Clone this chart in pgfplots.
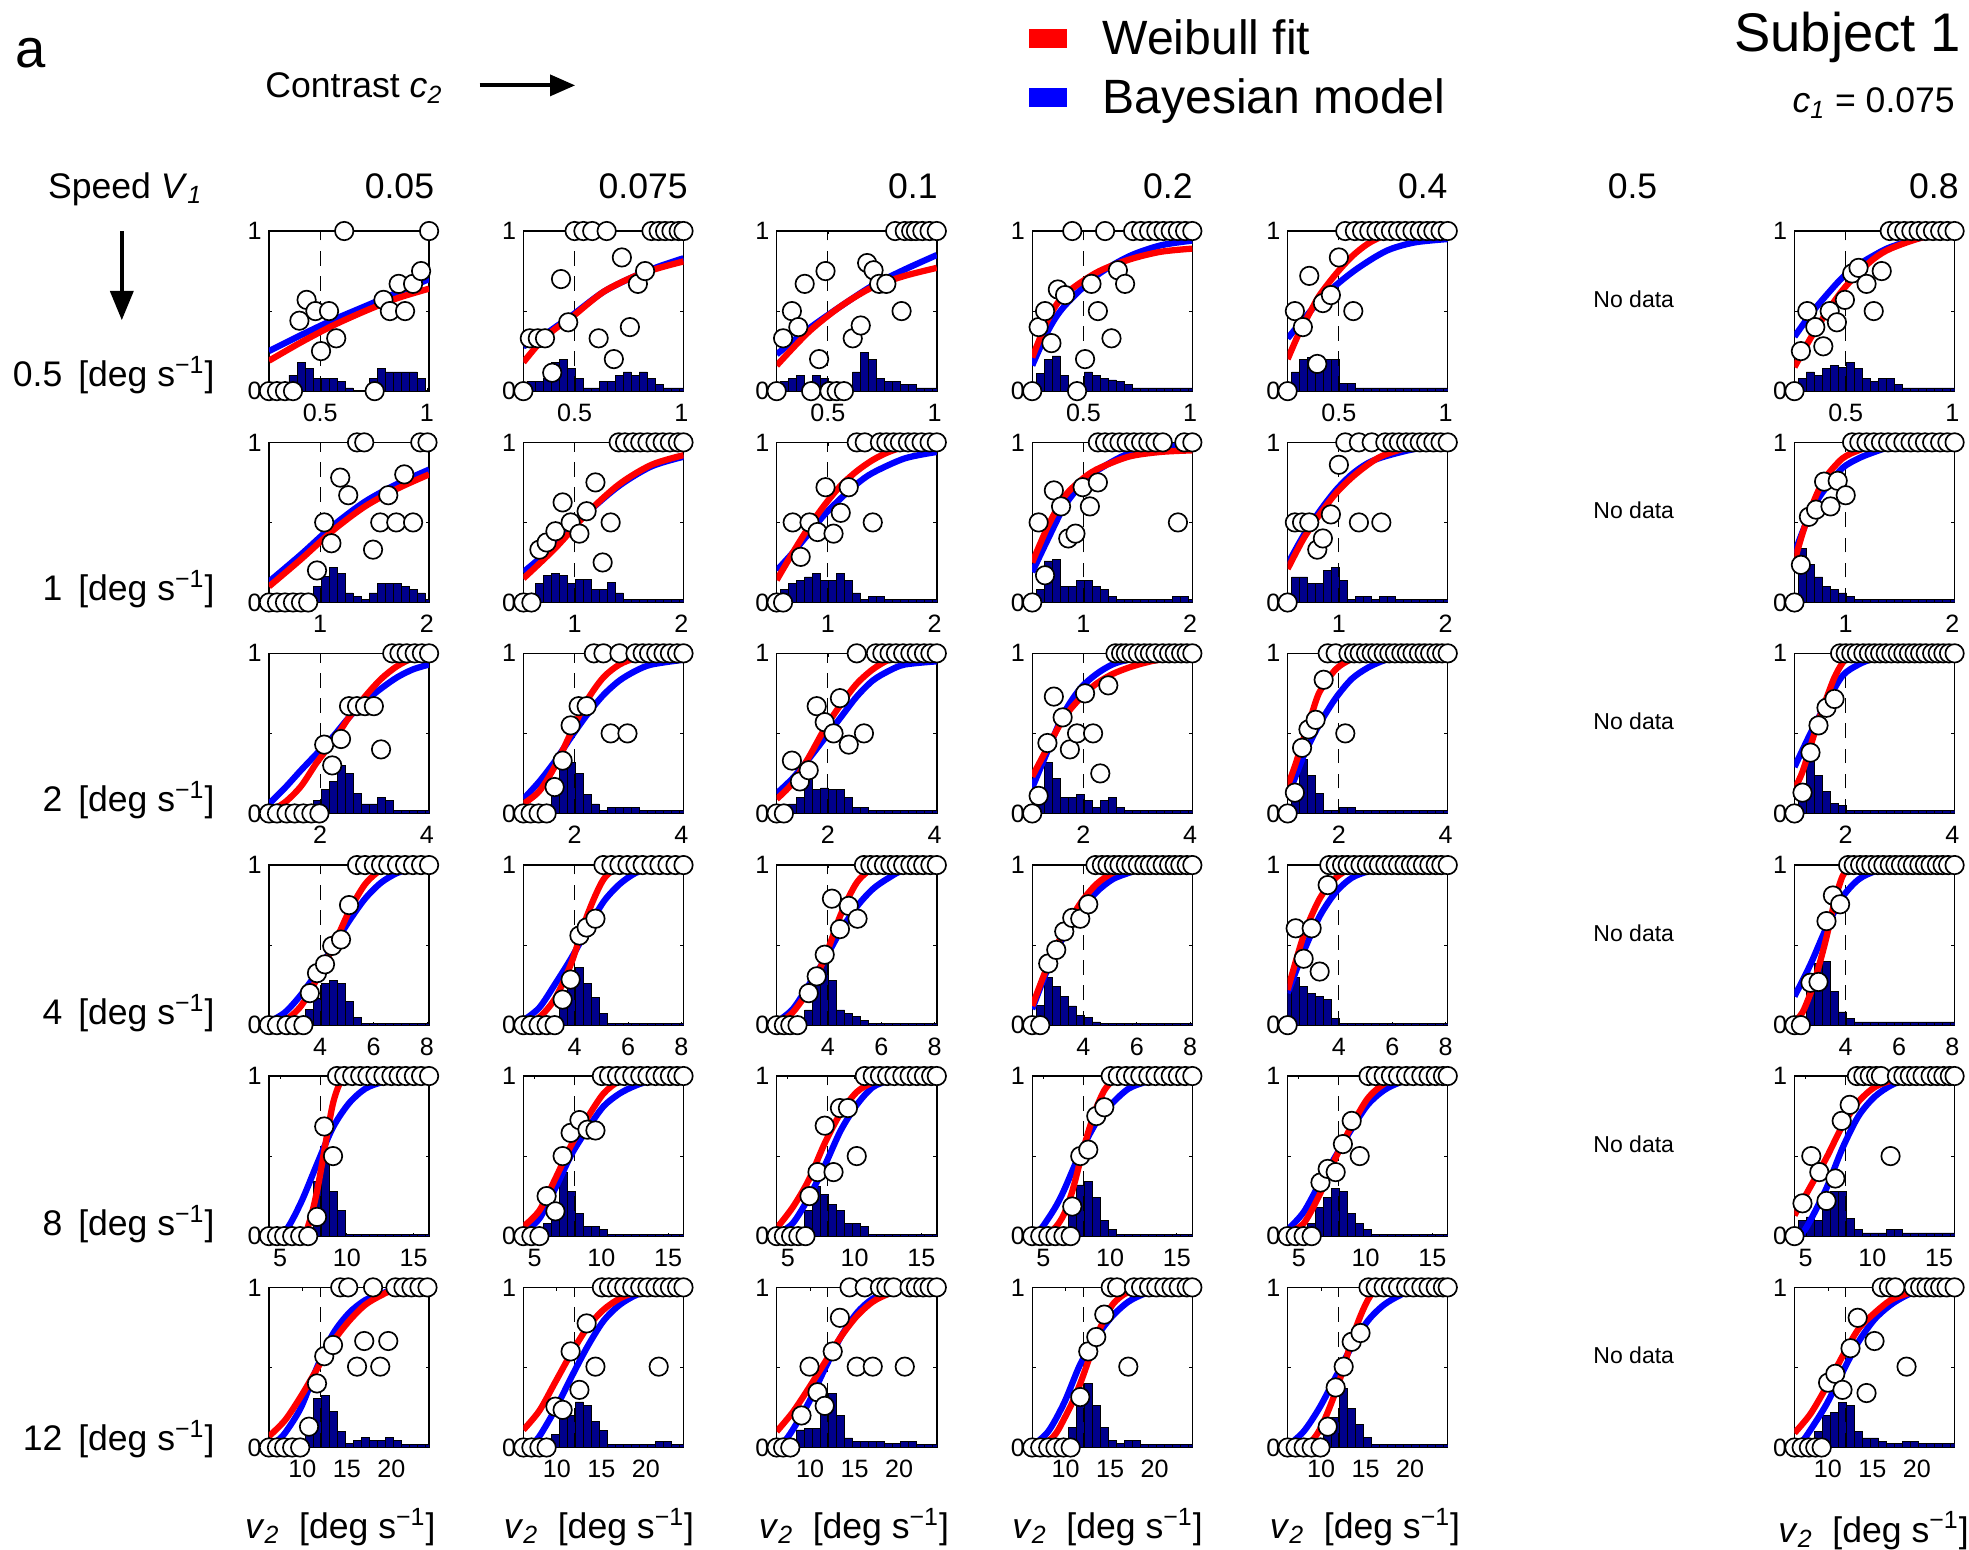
\documentclass[border=0pt]{standalone}
\usepackage{fontspec}
\setmainfont{Liberation Sans}
\usepackage{pgfplots}
\pgfplotsset{compat=1.18}
\usepackage{pgfplotstable}
\usetikzlibrary{arrows.meta}
\definecolor{barblue}{rgb}{0,0,0.55}
\definecolor{mred}{rgb}{1,0,0}
\definecolor{mblue}{rgb}{0,0,1}
\newcommand\fs[1]{\fontsize{#1}{#1}\selectfont}

\pgfplotstableread{
x c1 c2 c3 c4 c5 c7
0 0 0.04 0 0 0 0
0.05 0 0.06 0.06 0.11 0.12 0.08
0.10 0 0.06 0.08 0.20 0.20 0.12
0.15 0.10 0.08 0.10 0.22 0.21 0.10
0.20 0.18 0.18 0.04 0.10 0.22 0.14
0.25 0.14 0.20 0.10 0 0.20 0.16
0.30 0.08 0.14 0.08 0.02 0.20 0.15
0.35 0.08 0.08 0.03 0.12 0.05 0.18
0.40 0.08 0.02 0.02 0.10 0.05 0.14
0.45 0.06 0.02 0 0.08 0.02 0.08
0.50 0.02 0.06 0.12 0.07 0.02 0.06
0.55 0 0.06 0.24 0.06 0.02 0.08
0.60 0 0.10 0.20 0.04 0.02 0.08
0.65 0.08 0.12 0.08 0.02 0.02 0.04
0.70 0.14 0.10 0.06 0.02 0.02 0.02
0.75 0.12 0.12 0.06 0.02 0.02 0.02
0.80 0.12 0.08 0.04 0.02 0.02 0.02
0.85 0.12 0.04 0.04 0.02 0.02 0.02
0.90 0.12 0.02 0.02 0.02 0.02 0.02
0.95 0.08 0.02 0.02 0.02 0.02 0.02
1.00 0 0.02 0.02 0.02 0.02 0.02
}\barsA
\pgfplotstableread{
x c1 c2 c3 c4 c5 c7
0 0 0 0 0 0 0
0.05 0 0 0.08 0.08 0.16 0.34
0.10 0 0.12 0.12 0.26 0.16 0.24
0.15 0 0.167 0.14 0.27 0.12 0.16
0.20 0 0.18 0.16 0.10 0.12 0.10
0.25 0 0.167 0.18 0.10 0.20 0.08
0.30 0.10 0.12 0.14 0.14 0.22 0.06
0.35 0.165 0.144 0.14 0.14 0.14 0.04
0.40 0.22 0.144 0.18 0.10 0.02 0.02
0.45 0.18 0.083 0.14 0.08 0.04 0.02
0.50 0.06 0.083 0.06 0.04 0.04 0.02
0.55 0.04 0.123 0.02 0.02 0.02 0.02
0.60 0.02 0.06 0.04 0.02 0.04 0.02
0.65 0.06 0.02 0.04 0.02 0.04 0.02
0.70 0.12 0.02 0.02 0.02 0.02 0.02
0.75 0.12 0.02 0.02 0.02 0.02 0.02
0.80 0.12 0.02 0.02 0.02 0.02 0.02
0.85 0.10 0.02 0.02 0.02 0.02 0.02
0.90 0.08 0.02 0.02 0.04 0.02 0.02
0.95 0.06 0.02 0.02 0.04 0.02 0.02
1.00 0.02 0.02 0.02 0.02 0.02 0.02
}\barsB
\pgfplotstableread{
x c1 c2 c3 c4 c5 c7
0 0 0 0 0 0 0
0.05 0 0 0.04 0.08 0.10 0.14
0.10 0 0 0.06 0.32 0.34 0.35
0.15 0 0 0.10 0.22 0.24 0.24
0.20 0 0.13 0.25 0.10 0.125 0.14
0.25 0 0.365 0.15 0.10 0.02 0.065
0.30 0.08 0.32 0.16 0.12 0.02 0.05
0.35 0.15 0.25 0.15 0.08 0.04 0.02
0.40 0.20 0.12 0.15 0.04 0.04 0.02
0.45 0.30 0.06 0.10 0.08 0.02 0.02
0.50 0.25 0.02 0.04 0.10 0.02 0.02
0.55 0.125 0.04 0.04 0.04 0.02 0.02
0.60 0.06 0.04 0.02 0.02 0.02 0.02
0.65 0.06 0.04 0.02 0.02 0.02 0.02
0.70 0.10 0.04 0.02 0.02 0.02 0.02
0.75 0.08 0.02 0.02 0.02 0.02 0.02
0.80 0.02 0.02 0.02 0.02 0.02 0.02
0.85 0.02 0.02 0.02 0.02 0.02 0.02
0.90 0.02 0.02 0.02 0.02 0.02 0.02
0.95 0.02 0.02 0.02 0.02 0.02 0.02
1.00 0.02 0.02 0.02 0.02 0.02 0.02
}\barsC
\pgfplotstableread{
x c1 c2 c3 c4 c5 c7
0 0 0 0 0 0.21 0
0.05 0 0 0 0.125 0.30 0.04
0.10 0 0 0 0.30 0.24 0.30
0.15 0 0 0 0.24 0.20 0.385
0.20 0 0 0.095 0.18 0.18 0.40
0.25 0.10 0.19 0.246 0.12 0.16 0.21
0.30 0.17 0.295 0.39 0.0625 0.04 0.083
0.35 0.26 0.36 0.278 0.046 0.01 0.04
0.40 0.28 0.26 0.095 0.02 0.01 0.02
0.45 0.26 0.175 0.074 0.01 0.01 0.02
0.50 0.15 0.074 0.053 0.01 0.01 0.02
0.55 0.05 0.01 0.03 0.01 0.01 0.02
0.60 0.01 0.01 0.01 0.01 0.01 0.02
0.65 0.01 0.01 0.01 0.01 0.01 0.02
0.70 0.01 0.01 0.01 0.01 0.01 0.02
0.75 0.01 0.01 0.01 0.01 0.01 0.02
0.80 0.01 0.01 0.01 0.01 0.01 0.02
0.85 0.01 0.01 0.01 0.01 0.01 0.02
0.90 0.01 0.01 0.01 0.01 0.01 0.02
0.95 0.01 0.01 0.01 0.01 0.01 0.02
1.00 0.01 0.01 0.01 0.01 0.01 0.02
}\barsD
\pgfplotstableread{
x c1 c2 c3 c4 c5 c7
0 0 0 0 0 0 0
0.05 0 0 0 0 0 0.10
0.10 0 0.04 0 0 0.02 0.12
0.15 0 0.08 0 0 0.08 0.10
0.20 0 0.15 0.16 0 0.18 0.21
0.25 0 0.40 0.31 0.18 0.24 0.28
0.30 0.34 0.277 0.26 0.32 0.30 0.28
0.35 0.47 0.14 0.20 0.34 0.28 0.11
0.40 0.28 0.0625 0.16 0.24 0.14 0.04
0.45 0.16 0.0625 0.08 0.10 0.08 0.02
0.50 0.01 0.04 0.08 0.04 0.04 0.02
0.55 0.01 0.01 0.06 0.01 0.01 0.02
0.60 0.01 0.01 0.01 0.01 0.01 0.04
0.65 0.01 0.01 0.01 0.01 0.01 0.04
0.70 0.01 0.01 0.01 0.01 0.01 0.02
0.75 0.01 0.01 0.01 0.01 0.01 0.02
0.80 0.01 0.01 0.01 0.01 0.01 0.02
0.85 0.01 0.01 0.01 0.01 0.01 0.02
0.90 0.01 0.01 0.01 0.01 0.01 0.02
0.95 0.01 0.01 0.01 0.01 0.01 0.02
1.00 0.01 0.01 0.01 0.01 0.01 0.02
}\barsE
\pgfplotstableread{
x c1 c2 c3 c4 c5 c7
0 0 0 0 0 0 0
0.05 0 0 0 0 0 0
0.10 0 0 0.02 0 0 0.02
0.15 0 0 0.11 0 0 0.10
0.20 0 0.08 0.12 0 0 0.20
0.25 0.08 0.20 0.12 0.123 0.08 0.22
0.30 0.306 0.20 0.21 0.30 0.19 0.28
0.35 0.323 0.285 0.34 0.40 0.37 0.265
0.40 0.223 0.265 0.20 0.265 0.244 0.10
0.45 0.098 0.165 0.06 0.123 0.146 0.06
0.50 0.025 0.108 0.04 0.046 0.0625 0.06
0.55 0.042 0.02 0.04 0.025 0.02 0.04
0.60 0.0625 0.02 0.04 0.042 0.02 0.025
0.65 0.042 0.02 0.04 0.042 0.02 0.025
0.70 0.042 0.02 0.025 0.02 0.02 0.04
0.75 0.0625 0.02 0.025 0.02 0.02 0.04
0.80 0.042 0.02 0.04 0.02 0.02 0.025
0.85 0.02 0.04 0.04 0.02 0.02 0.025
0.90 0.02 0.04 0.02 0.02 0.02 0.025
0.95 0.02 0.02 0.02 0.02 0.02 0.025
1.00 0.02 0.02 0.02 0.02 0.02 0.025
}\barsF

\pgfplotsset{
  pan/.style={
    width=76.5pt, height=76.5pt, scale only axis,
    xmin=0, xmax=1, ymin=0, ymax=1,
    ytick={0,0.5,1}, yticklabels={0,,1},
    tick align=inside, major tick length=1.6pt,
    every tick/.style={black, line width=0.4pt},
    axis line style={line width=0.7pt},
    tick label style={font=\fs{12}},
    xticklabel style={yshift=-2.5pt},
    /pgf/number format/assume math mode=true,
    anchor=north west,
  },
  rowA/.style={xtick={0.32,0.9867}, xticklabels={0.5,1}},
  rowB/.style={xtick={0.32,0.9867}, xticklabels={1,2}},
  rowC/.style={xtick={0.32,0.9867}, xticklabels={2,4}},
  rowD/.style={xtick={0.32,0.6533,0.9867}, xticklabels={4,6,8}},
  rowE/.style={xtick={0.07,0.4867,0.9033}, xticklabels={5,10,15}},
  rowF/.style={xtick={0.2089,0.4867,0.7644}, xticklabels={10,15,20}},
}

% #1 left, #2 top (reference px), #3 row style, #4 bar table, #5 column, #6 red, #7 blue, #8 circles
\newcommand{\panel}[8]{%
\begin{axis}[pan, #3, at={({#1*0.6pt},{740.4pt-#2*0.6pt})}]
\addplot[ybar, bar width=0.05, bar shift=0pt, fill=barblue, draw=black, line width=0.3pt] table[x=x, y=#5] {#4};
\addplot[black, line width=0.5pt, dash pattern=on 7pt off 5pt] coordinates {(0.32,0)(0.32,1)};
\addplot[mblue, line width=3pt, smooth] coordinates {#7};
\addplot[mred, line width=3pt, smooth] coordinates {#6};
\addplot[only marks, mark=*, mark size=4.4pt, mark options={fill=white, draw=black, line width=0.8pt}] coordinates {#8};
\end{axis}}

\begin{document}
\begin{tikzpicture}
\path[use as bounding box] (0,0) rectangle (940.8pt,740.4pt);

% ---------------- Row 1 (v1 = 0.5)
\panel{214.2}{184}{rowA}{\barsA}{c1}
{(0,0.19)(0.2,0.305)(0.4,0.41)(0.6,0.5)(0.8,0.58)(1,0.64)}
{(0,0.25)(0.2,0.35)(0.4,0.445)(0.6,0.53)(0.8,0.615)(1,0.70)}
{(0,0)(0.05,0)(0.1,0)(0.15,0)(0.66,0)(0.47,1)(1,1)(0.19,0.44)(0.235,0.57)(0.29,0.5)(0.375,0.5)(0.42,0.33)(0.325,0.25)(0.715,0.57)(0.755,0.5)(0.81,0.67)(0.85,0.5)(0.9,0.67)(0.95,0.75)}
\panel{416.8}{184}{rowA}{\barsA}{c2}
{(0,0.18)(0.1,0.30)(0.2,0.39)(0.3,0.46)(0.5,0.62)(0.7,0.72)(0.85,0.77)(1,0.81)}
{(0,0.28)(0.1,0.33)(0.2,0.40)(0.3,0.47)(0.5,0.62)(0.7,0.72)(0.85,0.78)(1,0.83)}
{(0,0)(0.32,1)(0.375,1)(0.43,1)(0.52,1)(0.8,1)(0.845,1)(0.885,1)(0.925,1)(0.97,1)(1,1)(0.04,0.33)(0.09,0.33)(0.135,0.33)(0.18,0.115)(0.235,0.7)(0.28,0.43)(0.47,0.33)(0.565,0.2)(0.615,0.835)(0.665,0.4)(0.715,0.67)(0.76,0.75)}
\panel{618.5}{184}{rowA}{\barsA}{c3}
{(0,0.16)(0.2,0.37)(0.4,0.53)(0.6,0.65)(0.8,0.72)(1,0.77)}
{(0,0.23)(0.2,0.39)(0.4,0.53)(0.6,0.66)(0.8,0.76)(1,0.85)}
{(0,0)(0.215,0)(0.33,0)(0.375,0)(0.42,0)(0.74,1)(0.8,1)(0.84,1)(0.87,1)(0.91,1)(0.955,1)(1,1)(0.04,0.33)(0.095,0.5)(0.135,0.4)(0.175,0.67)(0.265,0.2)(0.305,0.75)(0.475,0.33)(0.525,0.41)(0.565,0.8)(0.605,0.755)(0.64,0.67)(0.685,0.67)(0.78,0.5)}
\panel{822}{184}{rowA}{\barsA}{c4}
{(0,0.21)(0.1,0.45)(0.2,0.60)(0.4,0.74)(0.6,0.82)(0.8,0.87)(1,0.89)}
{(0,0.16)(0.1,0.38)(0.2,0.53)(0.4,0.72)(0.6,0.84)(0.8,0.91)(1,0.94)}
{(0,0)(0.28,0)(0.25,1)(0.455,1)(0.63,1)(0.68,1)(0.73,1)(0.775,1)(0.82,1)(0.865,1)(0.91,1)(0.955,1)(1,1)(0.04,0.4)(0.08,0.5)(0.12,0.3)(0.16,0.635)(0.205,0.6)(0.33,0.2)(0.37,0.67)(0.41,0.5)(0.495,0.33)(0.535,0.755)(0.58,0.67)}
\panel{1025.4}{184}{rowA}{\barsA}{c5}
{(0,0.2)(0.07,0.36)(0.144,0.5)(0.2,0.6)(0.3,0.73)(0.4,0.84)(0.5,0.92)(0.6,0.97)(0.7,0.995)(1,1)}
{(0,0.33)(0.1,0.45)(0.2,0.565)(0.3,0.66)(0.42,0.755)(0.55,0.84)(0.65,0.89)(0.8,0.93)(1,0.95)}
{(0,0)(0.36,1)(0.42,1)(0.465,1)(0.51,1)(0.555,1)(0.6,1)(0.645,1)(0.69,1)(0.735,1)(0.78,1)(0.825,1)(0.87,1)(0.91,1)(0.955,1)(1,1)(0.045,0.5)(0.095,0.4)(0.135,0.72)(0.185,0.17)(0.22,0.55)(0.27,0.6)(0.32,0.835)(0.41,0.5)}
\panel{1429}{184}{rowA}{\barsA}{c7}
{(0,0.15)(0.1,0.33)(0.2,0.49)(0.3,0.63)(0.4,0.74)(0.5,0.83)(0.6,0.89)(0.8,0.96)(1,0.99)}
{(0,0.34)(0.1,0.48)(0.2,0.6)(0.3,0.71)(0.4,0.79)(0.5,0.85)(0.6,0.9)(0.8,0.96)(1,0.98)}
{(0,0)(0.595,1)(0.64,1)(0.685,1)(0.73,1)(0.775,1)(0.82,1)(0.865,1)(0.91,1)(0.955,1)(1,1)(0.04,0.25)(0.08,0.5)(0.13,0.4)(0.18,0.28)(0.22,0.5)(0.265,0.43)(0.315,0.57)(0.36,0.735)(0.4,0.77)(0.45,0.67)(0.495,0.5)(0.545,0.75)}

% ---------------- Row 2 (v1 = 1)
\panel{214.2}{352.3}{rowB}{\barsB}{c1}
{(0,0.10)(0.2,0.27)(0.4,0.45)(0.6,0.60)(0.8,0.71)(1,0.80)}
{(0,0.13)(0.2,0.30)(0.4,0.48)(0.6,0.63)(0.8,0.74)(1,0.83)}
{(0,0)(0.05,0)(0.1,0)(0.15,0)(0.2,0)(0.245,0)(0.55,1)(0.595,1)(0.945,1)(0.99,1)(0.3,0.2)(0.345,0.5)(0.39,0.37)(0.445,0.78)(0.495,0.67)(0.65,0.33)(0.695,0.5)(0.745,0.67)(0.795,0.5)(0.845,0.8)(0.9,0.5)}
\panel{416.8}{352.3}{rowB}{\barsB}{c2}
{(0,0.15)(0.2,0.34)(0.4,0.56)(0.6,0.74)(0.8,0.86)(1,0.92)}
{(0,0.19)(0.2,0.36)(0.4,0.56)(0.6,0.73)(0.8,0.85)(1,0.91)}
{(0,0)(0.05,0)(0.595,1)(0.635,1)(0.685,1)(0.73,1)(0.775,1)(0.825,1)(0.87,1)(0.915,1)(0.965,1)(1,1)(0.1,0.33)(0.145,0.375)(0.2,0.445)(0.245,0.625)(0.295,0.5)(0.35,0.43)(0.395,0.57)(0.45,0.75)(0.495,0.25)(0.545,0.5)}
\panel{618.5}{352.3}{rowB}{\barsB}{c3}
{(0,0.14)(0.1,0.31)(0.2,0.47)(0.3,0.61)(0.4,0.73)(0.5,0.82)(0.6,0.89)(0.7,0.94)(0.8,0.97)(1,1)}
{(0,0.20)(0.1,0.31)(0.2,0.43)(0.3,0.55)(0.4,0.65)(0.5,0.74)(0.6,0.81)(0.8,0.90)(1,0.94)}
{(0,0)(0.04,0)(0.5,1)(0.55,1)(0.645,1)(0.685,1)(0.73,1)(0.77,1)(0.82,1)(0.86,1)(0.905,1)(0.955,1)(1,1)(0.1,0.5)(0.15,0.285)(0.205,0.5)(0.255,0.44)(0.305,0.72)(0.355,0.43)(0.4,0.56)(0.45,0.72)(0.6,0.5)}
\panel{822}{352.3}{rowB}{\barsB}{c4}
{(0,0.25)(0.1,0.48)(0.2,0.66)(0.3,0.76)(0.4,0.83)(0.6,0.91)(0.8,0.94)(1,0.95)}
{(0,0.19)(0.1,0.40)(0.2,0.60)(0.3,0.73)(0.4,0.82)(0.6,0.93)(0.8,0.97)(1,0.98)}
{(0,0)(0.41,1)(0.455,1)(0.5,1)(0.545,1)(0.59,1)(0.635,1)(0.68,1)(0.725,1)(0.77,1)(0.815,1)(0.95,1)(1,1)(0.04,0.5)(0.08,0.17)(0.135,0.7)(0.18,0.6)(0.225,0.4)(0.27,0.43)(0.315,0.72)(0.36,0.6)(0.41,0.75)(0.91,0.5)}
\panel{1025.4}{352.3}{rowB}{\barsB}{c5}
{(0,0.21)(0.1,0.40)(0.2,0.55)(0.3,0.68)(0.4,0.78)(0.5,0.86)(0.6,0.92)(0.8,0.98)(1,1)}
{(0,0.24)(0.1,0.42)(0.2,0.57)(0.3,0.70)(0.4,0.80)(0.5,0.87)(0.6,0.91)(0.8,0.96)(1,0.98)}
{(0,0)(0.36,1)(0.445,1)(0.525,1)(0.61,1)(0.655,1)(0.695,1)(0.74,1)(0.78,1)(0.825,1)(0.865,1)(0.91,1)(0.955,1)(1,1)(0.045,0.5)(0.09,0.5)(0.135,0.5)(0.185,0.33)(0.22,0.4)(0.27,0.55)(0.32,0.86)(0.445,0.5)(0.585,0.5)}
\panel{1429}{352.3}{rowB}{\barsB}{c7}
{(0,0.26)(0.05,0.43)(0.1,0.58)(0.15,0.70)(0.2,0.79)(0.3,0.90)(0.4,0.95)(0.5,0.98)(0.6,1)(1,1)}
{(0,0.31)(0.05,0.44)(0.1,0.56)(0.15,0.65)(0.2,0.72)(0.3,0.84)(0.4,0.90)(0.5,0.94)(0.6,0.97)(0.8,0.99)(1,1)}
{(0,0)(0.36,1)(0.405,1)(0.45,1)(0.495,1)(0.54,1)(0.585,1)(0.63,1)(0.68,1)(0.725,1)(0.77,1)(0.815,1)(0.86,1)(0.91,1)(0.955,1)(1,1)(0.04,0.235)(0.09,0.535)(0.135,0.58)(0.185,0.755)(0.225,0.6)(0.27,0.76)(0.32,0.67)}

% ---------------- Row 3 (v1 = 2)
\panel{214.2}{520.3}{rowC}{\barsC}{c1}
{(0,0.01)(0.1,0.07)(0.2,0.17)(0.3,0.32)(0.4,0.45)(0.5,0.6)(0.6,0.73)(0.7,0.84)(0.8,0.92)(0.9,0.97)(1,0.99)}
{(0,0.06)(0.1,0.16)(0.2,0.27)(0.3,0.375)(0.4,0.48)(0.5,0.6)(0.6,0.7)(0.7,0.78)(0.8,0.85)(0.9,0.9)(1,0.93)}
{(0,0)(0.05,0)(0.11,0)(0.16,0)(0.215,0)(0.265,0)(0.315,0)(0.77,1)(0.815,1)(0.86,1)(0.91,1)(0.955,1)(1,1)(0.345,0.43)(0.395,0.3)(0.45,0.465)(0.5,0.67)(0.55,0.67)(0.6,0.67)(0.655,0.67)(0.7,0.4)}
\panel{416.8}{520.3}{rowC}{\barsC}{c2}
{(0,0.06)(0.1,0.14)(0.2,0.30)(0.3,0.51)(0.4,0.71)(0.5,0.85)(0.6,0.93)(0.7,0.97)(0.8,0.99)(1,1)}
{(0,0.09)(0.1,0.20)(0.2,0.33)(0.3,0.48)(0.4,0.62)(0.5,0.74)(0.6,0.83)(0.7,0.89)(0.8,0.93)(1,0.96)}
{(0,0)(0.045,0)(0.095,0)(0.145,0)(0.44,1)(0.5,1)(0.6,1)(0.7,1)(0.745,1)(0.785,1)(0.83,1)(0.875,1)(0.915,1)(0.96,1)(1,1)(0.195,0.165)(0.245,0.33)(0.295,0.55)(0.345,0.67)(0.395,0.67)(0.545,0.5)(0.65,0.5)}
\panel{618.5}{520.3}{rowC}{\barsC}{c3}
{(0,0.09)(0.1,0.19)(0.2,0.35)(0.3,0.53)(0.4,0.68)(0.5,0.81)(0.6,0.90)(0.7,0.96)(0.8,0.99)(1,1)}
{(0,0.125)(0.1,0.22)(0.2,0.34)(0.3,0.47)(0.4,0.60)(0.5,0.73)(0.6,0.83)(0.7,0.89)(0.8,0.93)(1,0.95)}
{(0,0)(0.045,0)(0.5,1)(0.62,1)(0.66,1)(0.705,1)(0.745,1)(0.79,1)(0.835,1)(0.875,1)(0.92,1)(0.96,1)(1,1)(0.095,0.33)(0.145,0.2)(0.2,0.27)(0.25,0.67)(0.3,0.57)(0.355,0.5)(0.395,0.72)(0.45,0.43)(0.545,0.5)}
\panel{822}{520.3}{rowC}{\barsC}{c4}
{(0,0.23)(0.1,0.42)(0.2,0.60)(0.3,0.72)(0.4,0.81)(0.5,0.87)(0.6,0.91)(0.7,0.94)(0.8,0.96)(1,0.97)}
{(0,0.16)(0.1,0.40)(0.2,0.63)(0.3,0.78)(0.4,0.87)(0.5,0.93)(0.6,0.96)(0.8,0.99)(1,1)}
{(0,0)(0.52,1)(0.555,1)(0.585,1)(0.62,1)(0.66,1)(0.7,1)(0.735,1)(0.77,1)(0.815,1)(0.855,1)(0.89,1)(0.93,1)(0.965,1)(1,1)(0.04,0.11)(0.095,0.44)(0.135,0.73)(0.19,0.6)(0.235,0.4)(0.28,0.5)(0.33,0.75)(0.38,0.5)(0.425,0.25)(0.475,0.8)}
\panel{1025.4}{520.3}{rowC}{\barsC}{c5}
{(0,0.17)(0.05,0.31)(0.1,0.47)(0.15,0.62)(0.2,0.76)(0.3,0.90)(0.4,0.965)(0.5,0.995)(1,1)}
{(0,0.10)(0.1,0.36)(0.2,0.56)(0.3,0.72)(0.4,0.84)(0.5,0.91)(0.6,0.955)(0.7,0.98)(0.8,0.99)(1,1)}
{(0,0)(0.25,1)(0.3,1)(0.38,1)(0.415,1)(0.45,1)(0.49,1)(0.525,1)(0.56,1)(0.6,1)(0.635,1)(0.67,1)(0.71,1)(0.745,1)(0.78,1)(0.82,1)(0.855,1)(0.89,1)(0.93,1)(0.965,1)(1,1)(0.045,0.13)(0.09,0.41)(0.13,0.525)(0.175,0.585)(0.225,0.835)(0.36,0.5)}
\panel{1429}{520.3}{rowC}{\barsC}{c7}
{(0,0.15)(0.05,0.26)(0.1,0.42)(0.15,0.58)(0.2,0.72)(0.25,0.85)(0.3,0.94)(0.35,0.99)(0.4,1)(1,1)}
{(0,0.29)(0.1,0.50)(0.2,0.69)(0.3,0.86)(0.4,0.93)(0.5,0.97)(0.6,0.99)(0.8,1)(1,1)}
{(0,0)(0.285,1)(0.32,1)(0.355,1)(0.39,1)(0.43,1)(0.465,1)(0.5,1)(0.535,1)(0.57,1)(0.605,1)(0.645,1)(0.68,1)(0.715,1)(0.75,1)(0.785,1)(0.82,1)(0.86,1)(0.895,1)(0.93,1)(0.965,1)(1,1)(0.05,0.13)(0.1,0.38)(0.15,0.55)(0.2,0.66)(0.25,0.715)}

% ---------------- Row 4 (v1 = 4)
\panel{214.2}{688.9}{rowD}{\barsD}{c1}
{(0,0)(0.1,0.03)(0.2,0.12)(0.3,0.29)(0.4,0.49)(0.5,0.71)(0.6,0.88)(0.7,0.97)(0.8,1)(1,1)}
{(0,0.02)(0.1,0.08)(0.2,0.19)(0.3,0.33)(0.4,0.49)(0.5,0.65)(0.6,0.79)(0.7,0.89)(0.8,0.95)(0.9,0.98)(1,0.99)}
{(0,0)(0.05,0)(0.11,0)(0.16,0)(0.215,0)(0.55,1)(0.6,1)(0.655,1)(0.7,1)(0.745,1)(0.8,1)(0.85,1)(0.9,1)(0.95,1)(1,1)(0.255,0.2)(0.3,0.325)(0.35,0.38)(0.395,0.495)(0.45,0.535)(0.5,0.75)}
\panel{416.8}{688.9}{rowD}{\barsD}{c2}
{(0,0)(0.1,0.05)(0.2,0.17)(0.3,0.39)(0.4,0.69)(0.5,0.91)(0.6,0.99)(0.7,1)(1,1)}
{(0,0.03)(0.1,0.11)(0.2,0.26)(0.3,0.42)(0.4,0.60)(0.5,0.77)(0.6,0.88)(0.7,0.95)(0.8,0.98)(1,1)}
{(0,0)(0.045,0)(0.095,0)(0.145,0)(0.195,0)(0.5,1)(0.55,1)(0.6,1)(0.65,1)(0.7,1)(0.745,1)(0.8,1)(0.85,1)(0.9,1)(0.95,1)(1,1)(0.245,0.16)(0.295,0.285)(0.35,0.56)(0.395,0.61)(0.45,0.665)}
\panel{618.5}{688.9}{rowD}{\barsD}{c3}
{(0,0)(0.1,0.08)(0.2,0.22)(0.3,0.42)(0.4,0.69)(0.5,0.89)(0.6,0.98)(0.7,1)(1,1)}
{(0,0.02)(0.1,0.10)(0.2,0.25)(0.3,0.41)(0.4,0.59)(0.5,0.74)(0.6,0.85)(0.7,0.92)(0.8,0.97)(1,0.99)}
{(0,0)(0.045,0)(0.085,0)(0.13,0)(0.545,1)(0.585,1)(0.625,1)(0.67,1)(0.71,1)(0.75,1)(0.79,1)(0.835,1)(0.875,1)(0.915,1)(0.96,1)(1,1)(0.2,0.2)(0.25,0.305)(0.3,0.44)(0.345,0.79)(0.395,0.6)(0.45,0.745)(0.505,0.665)}
\panel{822}{688.9}{rowD}{\barsD}{c4}
{(0,0.12)(0.1,0.38)(0.2,0.59)(0.3,0.76)(0.4,0.88)(0.5,0.95)(0.6,0.98)(0.7,1)(1,1)}
{(0,0.10)(0.1,0.36)(0.2,0.56)(0.3,0.71)(0.4,0.83)(0.5,0.91)(0.6,0.95)(0.7,0.98)(0.8,0.99)(1,1)}
{(0,0)(0.05,0)(0.395,1)(0.435,1)(0.47,1)(0.51,1)(0.545,1)(0.585,1)(0.62,1)(0.66,1)(0.7,1)(0.735,1)(0.775,1)(0.815,1)(0.855,1)(0.89,1)(0.925,1)(0.965,1)(1,1)(0.1,0.385)(0.15,0.47)(0.2,0.585)(0.25,0.67)(0.3,0.665)(0.35,0.755)}
\panel{1025.4}{688.9}{rowD}{\barsD}{c5}
{(0,0.22)(0.1,0.56)(0.2,0.79)(0.3,0.92)(0.4,0.98)(0.5,1)(1,1)}
{(0,0.20)(0.1,0.46)(0.2,0.68)(0.3,0.83)(0.4,0.92)(0.5,0.96)(0.6,0.985)(0.7,1)(1,1)}
{(0,0)(0.26,1)(0.3,1)(0.34,1)(0.375,1)(0.415,1)(0.455,1)(0.495,1)(0.535,1)(0.57,1)(0.61,1)(0.65,1)(0.69,1)(0.73,1)(0.77,1)(0.805,1)(0.845,1)(0.885,1)(0.925,1)(0.96,1)(1,1)(0.05,0.605)(0.1,0.415)(0.15,0.605)(0.2,0.335)(0.25,0.875)}
\panel{1429}{688.9}{rowD}{\barsD}{c7}
{(0,0.02)(0.05,0.08)(0.1,0.20)(0.15,0.36)(0.2,0.55)(0.25,0.77)(0.3,0.93)(0.35,0.99)(0.4,1)(1,1)}
{(0,0.18)(0.1,0.38)(0.2,0.61)(0.3,0.80)(0.4,0.91)(0.5,0.96)(0.6,0.985)(0.7,1)(1,1)}
{(0,0)(0.04,0)(0.335,1)(0.37,1)(0.41,1)(0.445,1)(0.48,1)(0.52,1)(0.555,1)(0.595,1)(0.63,1)(0.665,1)(0.705,1)(0.74,1)(0.78,1)(0.815,1)(0.85,1)(0.89,1)(0.925,1)(0.96,1)(1,1)(0.1,0.265)(0.15,0.27)(0.2,0.65)(0.24,0.81)(0.285,0.755)}

% ---------------- Row 5 (v1 = 8)
\panel{214.2}{856.9}{rowE}{\barsE}{c1}
{(0,0)(0.2,0)(0.25,0.08)(0.3,0.28)(0.35,0.56)(0.4,0.83)(0.45,0.97)(0.5,1)(1,1)}
{(0,0)(0.1,0.03)(0.2,0.21)(0.3,0.45)(0.4,0.68)(0.5,0.83)(0.6,0.92)(0.7,0.96)(0.8,0.98)(1,0.99)}
{(0,0)(0.05,0)(0.095,0)(0.145,0)(0.195,0)(0.245,0)(0.425,1)(0.47,1)(0.52,1)(0.57,1)(0.615,1)(0.665,1)(0.715,1)(0.765,1)(0.81,1)(0.855,1)(0.905,1)(0.95,1)(1,1)(0.3,0.12)(0.345,0.685)(0.4,0.5)}
\panel{416.8}{856.9}{rowE}{\barsE}{c2}
{(0,0.06)(0.1,0.16)(0.2,0.36)(0.3,0.57)(0.4,0.74)(0.5,0.89)(0.6,0.97)(0.7,1)(1,1)}
{(0,0.02)(0.1,0.11)(0.2,0.30)(0.3,0.51)(0.4,0.67)(0.5,0.81)(0.6,0.89)(0.7,0.94)(0.8,0.97)(1,0.99)}
{(0,0)(0.05,0)(0.1,0)(0.49,1)(0.535,1)(0.585,1)(0.63,1)(0.68,1)(0.73,1)(0.775,1)(0.825,1)(0.87,1)(0.915,1)(0.96,1)(1,1)(0.145,0.25)(0.2,0.155)(0.245,0.5)(0.295,0.645)(0.35,0.725)(0.4,0.665)(0.45,0.66)}
\panel{618.5}{856.9}{rowE}{\barsE}{c3}
{(0,0.05)(0.1,0.18)(0.2,0.35)(0.3,0.58)(0.4,0.77)(0.5,0.90)(0.6,0.96)(0.7,0.99)(1,1)}
{(0,0.01)(0.1,0.08)(0.2,0.24)(0.3,0.44)(0.4,0.66)(0.5,0.82)(0.6,0.93)(0.7,0.97)(0.8,0.99)(1,1)}
{(0,0)(0.045,0)(0.09,0)(0.135,0)(0.18,0)(0.55,1)(0.6,1)(0.645,1)(0.69,1)(0.735,1)(0.785,1)(0.83,1)(0.875,1)(0.92,1)(0.965,1)(1,1)(0.205,0.25)(0.255,0.4)(0.3,0.69)(0.355,0.4)(0.395,0.8)(0.445,0.8)(0.5,0.5)}
\panel{822}{856.9}{rowE}{\barsE}{c4}
{(0,0)(0.1,0.02)(0.15,0.06)(0.2,0.14)(0.25,0.28)(0.3,0.47)(0.35,0.65)(0.4,0.80)(0.45,0.91)(0.5,0.97)(0.55,1)(1,1)}
{(0,0)(0.05,0.04)(0.1,0.11)(0.15,0.19)(0.2,0.29)(0.3,0.52)(0.4,0.71)(0.5,0.83)(0.6,0.92)(0.7,0.96)(0.8,0.98)(1,0.99)}
{(0,0)(0.05,0)(0.1,0)(0.145,0)(0.195,0)(0.24,0)(0.49,1)(0.535,1)(0.585,1)(0.63,1)(0.675,1)(0.725,1)(0.77,1)(0.82,1)(0.865,1)(0.91,1)(0.955,1)(1,1)(0.25,0.185)(0.3,0.5)(0.35,0.54)(0.4,0.75)(0.45,0.805)}
\panel{1025.4}{856.9}{rowE}{\barsE}{c5}
{(0,0.02)(0.1,0.08)(0.2,0.26)(0.3,0.49)(0.4,0.69)(0.5,0.86)(0.6,0.95)(0.7,0.99)(1,1)}
{(0,0.04)(0.1,0.15)(0.2,0.33)(0.3,0.50)(0.4,0.67)(0.5,0.82)(0.6,0.91)(0.7,0.96)(0.8,0.99)(1,1)}
{(0,0)(0.05,0)(0.1,0)(0.15,0)(0.505,1)(0.55,1)(0.6,1)(0.645,1)(0.69,1)(0.74,1)(0.785,1)(0.835,1)(0.88,1)(0.925,1)(0.97,1)(1,1)(0.205,0.335)(0.25,0.42)(0.3,0.4)(0.345,0.575)(0.4,0.72)(0.45,0.5)}
\panel{1429}{856.9}{rowE}{\barsE}{c7}
{(0,0.13)(0.1,0.31)(0.2,0.49)(0.3,0.69)(0.4,0.84)(0.5,0.93)(0.6,0.97)(0.7,0.99)(1,1)}
{(0,0)(0.05,0.02)(0.1,0.10)(0.2,0.30)(0.3,0.55)(0.4,0.75)(0.5,0.87)(0.6,0.94)(0.7,0.98)(0.8,0.99)(1,1)}
{(0,0)(0.39,1)(0.43,1)(0.47,1)(0.51,1)(0.54,1)(0.64,1)(0.68,1)(0.72,1)(0.76,1)(0.8,1)(0.85,1)(0.89,1)(0.93,1)(0.97,1)(1,1)(0.05,0.205)(0.105,0.5)(0.155,0.4)(0.2,0.22)(0.255,0.36)(0.295,0.72)(0.345,0.82)(0.6,0.5)}

% ---------------- Row 6 (v1 = 12)
\panel{214.2}{1025.2}{rowF}{\barsF}{c1}
{(0,0.07)(0.1,0.17)(0.2,0.32)(0.3,0.49)(0.4,0.66)(0.5,0.79)(0.6,0.89)(0.7,0.95)(0.8,0.99)(1,1)}
{(0,0)(0.05,0.04)(0.1,0.09)(0.2,0.25)(0.3,0.50)(0.4,0.71)(0.5,0.84)(0.6,0.92)(0.7,0.96)(0.8,0.99)(1,1)}
{(0,0)(0.05,0)(0.095,0)(0.145,0)(0.195,0)(0.445,1)(0.495,1)(0.65,1)(0.79,1)(0.84,1)(0.89,1)(0.94,1)(0.99,1)(0.25,0.13)(0.3,0.4)(0.345,0.57)(0.4,0.64)(0.55,0.505)(0.595,0.665)(0.695,0.505)(0.745,0.665)}
\panel{416.8}{1025.2}{rowF}{\barsF}{c2}
{(0,0.11)(0.1,0.23)(0.2,0.41)(0.3,0.59)(0.4,0.75)(0.5,0.86)(0.6,0.93)(0.7,0.97)(0.8,0.99)(1,1)}
{(0,0)(0.05,0.02)(0.1,0.07)(0.2,0.24)(0.3,0.44)(0.4,0.63)(0.5,0.79)(0.6,0.89)(0.7,0.95)(0.8,0.98)(1,1)}
{(0,0)(0.05,0)(0.1,0)(0.145,0)(0.49,1)(0.535,1)(0.585,1)(0.63,1)(0.68,1)(0.73,1)(0.775,1)(0.825,1)(0.87,1)(0.915,1)(0.96,1)(1,1)(0.2,0.255)(0.245,0.235)(0.295,0.6)(0.35,0.36)(0.395,0.775)(0.45,0.505)(0.845,0.505)}
\panel{618.5}{1025.2}{rowF}{\barsF}{c3}
{(0,0.10)(0.1,0.22)(0.2,0.37)(0.3,0.53)(0.4,0.69)(0.5,0.82)(0.6,0.91)(0.7,0.96)(0.8,0.99)(1,1)}
{(0,0)(0.05,0.04)(0.1,0.11)(0.2,0.28)(0.3,0.49)(0.4,0.69)(0.5,0.84)(0.6,0.93)(0.7,0.97)(0.8,0.99)(1,1)}
{(0,0)(0.04,0)(0.085,0)(0.455,1)(0.55,1)(0.645,1)(0.685,1)(0.73,1)(0.83,1)(0.87,1)(0.915,1)(0.955,1)(1,1)(0.155,0.2)(0.205,0.505)(0.255,0.345)(0.3,0.26)(0.35,0.6)(0.395,0.81)(0.5,0.505)(0.6,0.505)(0.8,0.505)}
\panel{822}{1025.2}{rowF}{\barsF}{c4}
{(0,0)(0.1,0.04)(0.15,0.09)(0.2,0.18)(0.25,0.28)(0.3,0.40)(0.35,0.54)(0.4,0.69)(0.45,0.80)(0.5,0.89)(0.55,0.94)(0.6,0.97)(0.7,1)(1,1)}
{(0,0.01)(0.1,0.10)(0.2,0.28)(0.3,0.52)(0.4,0.69)(0.5,0.82)(0.6,0.91)(0.7,0.96)(0.8,0.99)(1,1)}
{(0,0)(0.05,0)(0.1,0)(0.145,0)(0.195,0)(0.24,0)(0.49,1)(0.53,1)(0.635,1)(0.68,1)(0.73,1)(0.775,1)(0.825,1)(0.87,1)(0.915,1)(0.965,1)(1,1)(0.3,0.315)(0.35,0.6)(0.4,0.69)(0.45,0.83)(0.6,0.505)}
\panel{1025.4}{1025.2}{rowF}{\barsF}{c5}
{(0,0)(0.1,0.01)(0.15,0.04)(0.2,0.11)(0.25,0.22)(0.3,0.35)(0.35,0.50)(0.4,0.67)(0.45,0.81)(0.5,0.92)(0.55,0.99)(0.6,1)(1,1)}
{(0,0.01)(0.1,0.10)(0.2,0.25)(0.3,0.44)(0.4,0.63)(0.5,0.79)(0.6,0.89)(0.7,0.95)(0.8,0.99)(1,1)}
{(0,0)(0.05,0)(0.1,0)(0.15,0)(0.205,0)(0.505,1)(0.55,1)(0.6,1)(0.645,1)(0.69,1)(0.74,1)(0.785,1)(0.835,1)(0.88,1)(0.925,1)(0.97,1)(1,1)(0.25,0.13)(0.3,0.375)(0.35,0.505)(0.4,0.66)(0.455,0.715)}
\panel{1429}{1025.2}{rowF}{\barsF}{c7}
{(0,0.09)(0.1,0.21)(0.2,0.38)(0.3,0.57)(0.4,0.74)(0.5,0.84)(0.6,0.92)(0.7,0.96)(0.8,0.99)(1,1)}
{(0,0)(0.05,0.04)(0.1,0.11)(0.2,0.27)(0.3,0.47)(0.4,0.66)(0.5,0.80)(0.6,0.89)(0.7,0.95)(0.8,0.985)(1,1)}
{(0,0)(0.045,0)(0.09,0)(0.13,0)(0.17,0)(0.545,1)(0.59,1)(0.63,1)(0.745,1)(0.785,1)(0.825,1)(0.87,1)(0.91,1)(0.95,1)(1,1)(0.21,0.405)(0.255,0.46)(0.3,0.36)(0.35,0.62)(0.395,0.81)(0.45,0.34)(0.5,0.665)(0.7,0.505)}

% ---------------- legend
\begin{axis}[hide axis, scale only axis, width=940.8pt, height=740.4pt,
  at={(0pt,0pt)}, anchor=south west, xmin=0, xmax=1, ymin=0, ymax=1,
  legend cell align=left,
  legend style={at={(0.5225,0.9905)}, anchor=north west, draw=none, fill=none,
    inner sep=0pt, row sep=6pt, font=\fs{23},
    /tikz/every odd column/.append style={column sep=15pt}}]
\addlegendimage{legend image code/.code={\fill[mred, draw=none] (0pt,-4.5pt) rectangle (18pt,4.5pt);}}
\addlegendentry{Weibull fit}
\addlegendimage{legend image code/.code={\fill[mblue, draw=none] (0pt,-4.5pt) rectangle (18pt,4.5pt);}}
\addlegendentry{Bayesian model}
\end{axis}

% ---------------- texts
\begin{scope}[x=0.6pt, y=-0.6pt, yshift=740.4pt]
\node[anchor=base west, font=\fs{26}, inner sep=0pt] at (12,54) {a};
\node[anchor=base west, font=\fs{17}, inner sep=0pt] at (211,78) {Contrast \textit{c}\textsubscript{\textit{2}}};
\draw[line width=1.8pt, -{Triangle[length=12pt,width=10pt]}] (382,68) -- (458,68);
\node[anchor=base east, font=\fs{26}, inner sep=0pt] at (1562,41) {Subject 1};
\node[anchor=base east, font=\fs{17}, inner sep=0pt] at (1557,90) {\textit{c}\textsubscript{\textit{1}} = 0.075};
\node[anchor=base east, font=\fs{17}, inner sep=0pt] at (346,158) {0.05};
\node[anchor=base east, font=\fs{17}, inner sep=0pt] at (548,158) {0.075};
\node[anchor=base east, font=\fs{17}, inner sep=0pt] at (747,158) {0.1};
\node[anchor=base east, font=\fs{17}, inner sep=0pt] at (950,158) {0.2};
\node[anchor=base east, font=\fs{17}, inner sep=0pt] at (1153,158) {0.4};
\node[anchor=base, font=\fs{17}, inner sep=0pt] at (1300,158) {0.5};
\node[anchor=base east, font=\fs{17}, inner sep=0pt] at (1560,158) {0.8};
\node[anchor=base west, font=\fs{17}, inner sep=0pt] at (38,158) {Speed \textit{V}\textsubscript{\textit{1}}};
\draw[line width=1.8pt, -{Triangle[length=14pt,width=11pt]}] (97,184) -- (97,255);
\foreach \lab/\yb in {0.5/308,1/478,2/646,4/816,8/984,12/1155} {
  \node[anchor=base east, font=\fs{17}, inner sep=0pt] at (50,\yb) {\lab};
  \node[anchor=base west, font=\fs{17}, inner sep=0pt] at (62,\yb) {[deg s\textsuperscript{−1}]};
}
\foreach \yc in {238,406,574,743,911,1079}
  \node[font=\fs{11}, inner sep=0pt] at (1301,\yc) {No data};
\foreach \xc in {271,477,680,882,1087}
  \node[anchor=base, font=\fs{17}, inner sep=0pt] at (\xc,1225) {\textit{v}\textsubscript{\textit{2}}\hspace{0.55em}[deg s\textsuperscript{−1}]};
\node[anchor=base, font=\fs{17}, inner sep=0pt] at (1492,1228) {\textit{v}\textsubscript{\textit{2}}\hspace{0.55em}[deg s\textsuperscript{−1}]};
\end{scope}
\end{tikzpicture}
\end{document}
